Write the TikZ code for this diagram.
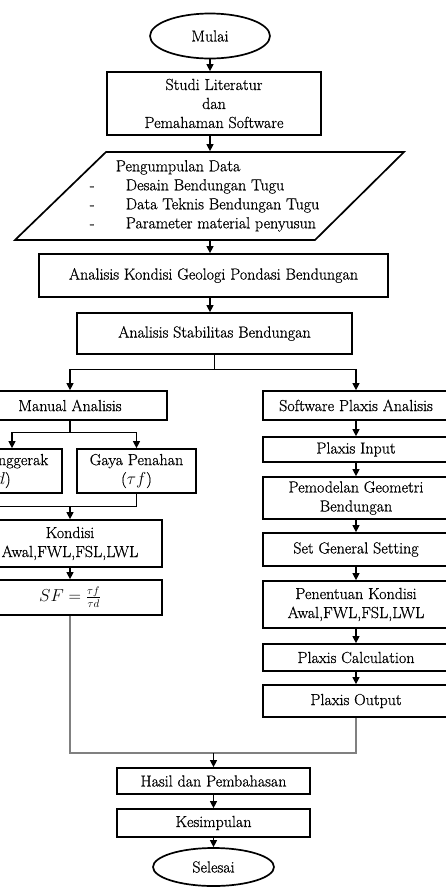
\documentclass[tikz,border=0pt]{standalone}
\usepackage{fontspec}
\newfontfamily\hurufkotak[FakeBold=0.7]{Latin Modern Roman}
\usetikzlibrary{shapes.geometric,arrows.meta}

\begin{document}
\begin{tikzpicture}[x=1pt, y=-1pt, >={Triangle[width=7pt,length=7pt]},
    kotak/.style={draw, line width=1.7pt, inner sep=0pt, align=center,
        font=\hurufkotak\fontsize{16}{19}\selectfont},
    oval/.style={kotak, ellipse},
    panah/.style={->, line width=1.2pt},
    garis/.style={line width=1.2pt},
    abu/.style={draw=black!50}]

    \useasboundingbox (0,0) rectangle (446,887);
    \clip (0,0) rectangle (446,887);

    % === bagian atas ===
    \node[oval, minimum width=120pt, minimum height=45pt] (mulai) at (210,36) {Mulai};
    \node[kotak, minimum width=214pt, minimum height=63pt] (studi) at (214,103.5)
        {Studi Literatur\\dan\\Pemahaman Software};

    % jajar genjang data
    \draw[line width=1.7pt] (106,152) -- (404,152) -- (315,240) -- (15,240) -- cycle;
    \node[kotak, draw=none, minimum height=88pt, anchor=west] (data) at (89,196)
        {\begin{tabular}{@{}p{36pt}@{}l@{}}
            \multicolumn{2}{@{}l@{}}{\hspace{26pt}Pengumpulan Data}\\
            - & Desain Bendungan Tugu\\
            - & Data Teknis Bendungan Tugu\\
            - & Parameter material penyusun
        \end{tabular}};

    \node[kotak, minimum width=349pt, minimum height=43pt] (geologi) at (213.5,275.5)
        {Analisis Kondisi Geologi Pondasi Bendungan};
    \node[kotak, minimum width=275pt, minimum height=41pt] (stabil) at (214.5,333.5)
        {Analisis Stabilitas Bendungan};

    \draw[panah] (mulai.south) -- (mulai.south |- studi.north);
    \draw[panah] (studi.south -| mulai) -- (data.north -| mulai);
    \draw[panah] (data.south -| mulai) -- (geologi.north -| mulai);
    \draw[panah] (geologi.south -| mulai) -- (stabil.north -| mulai);

    % === kolom kiri (manual) ===
    \node[kotak, minimum width=194pt, minimum height=29pt] (manual) at (70,405.5) {Manual Analisis};
    \node[kotak, minimum width=132pt, minimum height=44pt] (penggerak) at (-4,471)
        {Gaya Penggerak\\($\tau d$)};
    \node[kotak, minimum width=119pt, minimum height=44pt] (penahan) at (136.5,471)
        {Gaya Penahan\\($\tau f$)};
    \node[kotak, minimum width=184pt, minimum height=47pt] (kondisi) at (70,543.5)
        {Kondisi\\Awal,FWL,FSL,LWL};
    \node[kotak, minimum width=184pt, minimum height=35pt] (sf) at (70,597.5)
        {$SF=\frac{\tau f}{\tau d}$};

    % === kolom kanan (plaxis) ===
    \node[kotak, minimum width=186pt, minimum height=29pt] (software) at (356,405.5)
        {Software Plaxis Analisis};
    \node[kotak, minimum width=186pt, minimum height=25pt] (input) at (356,449.5) {Plaxis Input};
    \node[kotak, minimum width=186pt, minimum height=42pt] (model) at (356,498)
        {Pemodelan Geometri\\Bendungan};
    \node[kotak, minimum width=186pt, minimum height=33pt] (setting) at (356,549.5)
        {Set General Setting};
    \node[kotak, minimum width=186pt, minimum height=47pt] (kondisiP) at (356,604.5)
        {Penentuan Kondisi\\Awal,FWL,FSL,LWL};
    \node[kotak, minimum width=186pt, minimum height=27pt] (calc) at (356,657.5)
        {Plaxis Calculation};
    \node[kotak, minimum width=186pt, minimum height=32pt] (output) at (356,701)
        {Plaxis Output};

    % === bagian bawah ===
    \node[kotak, minimum width=193pt, minimum height=26pt] (hasil) at (213.5,781)
        {Hasil dan Pembahasan};
    \node[kotak, minimum width=193pt, minimum height=28pt] (simpul) at (213.5,823)
        {Kesimpulan};
    \node[oval, minimum width=121pt, minimum height=38pt] (selesai) at (213.5,867)
        {Selesai};

    % percabangan
    \draw[garis] (stabil.south) -- ++(0,15) coordinate (cabang);
    \draw[panah] (cabang) -| (manual.north);
    \draw[panah] (cabang) -| (software.north);

    \draw[garis] (manual.south) -- ++(0,12) coordinate (cabangM);
    \draw[panah] (cabangM) -| ([xshift=16pt]penggerak.north);
    \draw[panah] (cabangM) -| (penahan.north);

    \draw[garis] (penahan.south) -- ++(0,13) coordinate (gabung) -| (penggerak.south);
    \draw[panah] (gabung -| kondisi.north) -- (kondisi.north);
    \draw[panah] (kondisi.south) -- (sf.north);

    % alur plaxis
    \draw[panah] (software) -- (input);
    \draw[panah] (input) -- (model);
    \draw[panah] (model) -- (setting);
    \draw[panah] (setting) -- (kondisiP);
    \draw[panah] (kondisiP) -- (calc);
    \draw[panah] (calc) -- (output);

    % menuju hasil
    \coordinate (temu) at (213.5,753);
    \draw[garis, abu] (sf.south) |- (temu) -| (output.south);
    \draw[panah] (temu) -- (hasil.north);
    \draw[panah] (hasil) -- (simpul);
    \draw[panah] (simpul) -- (selesai);

\end{tikzpicture}
\end{document}
